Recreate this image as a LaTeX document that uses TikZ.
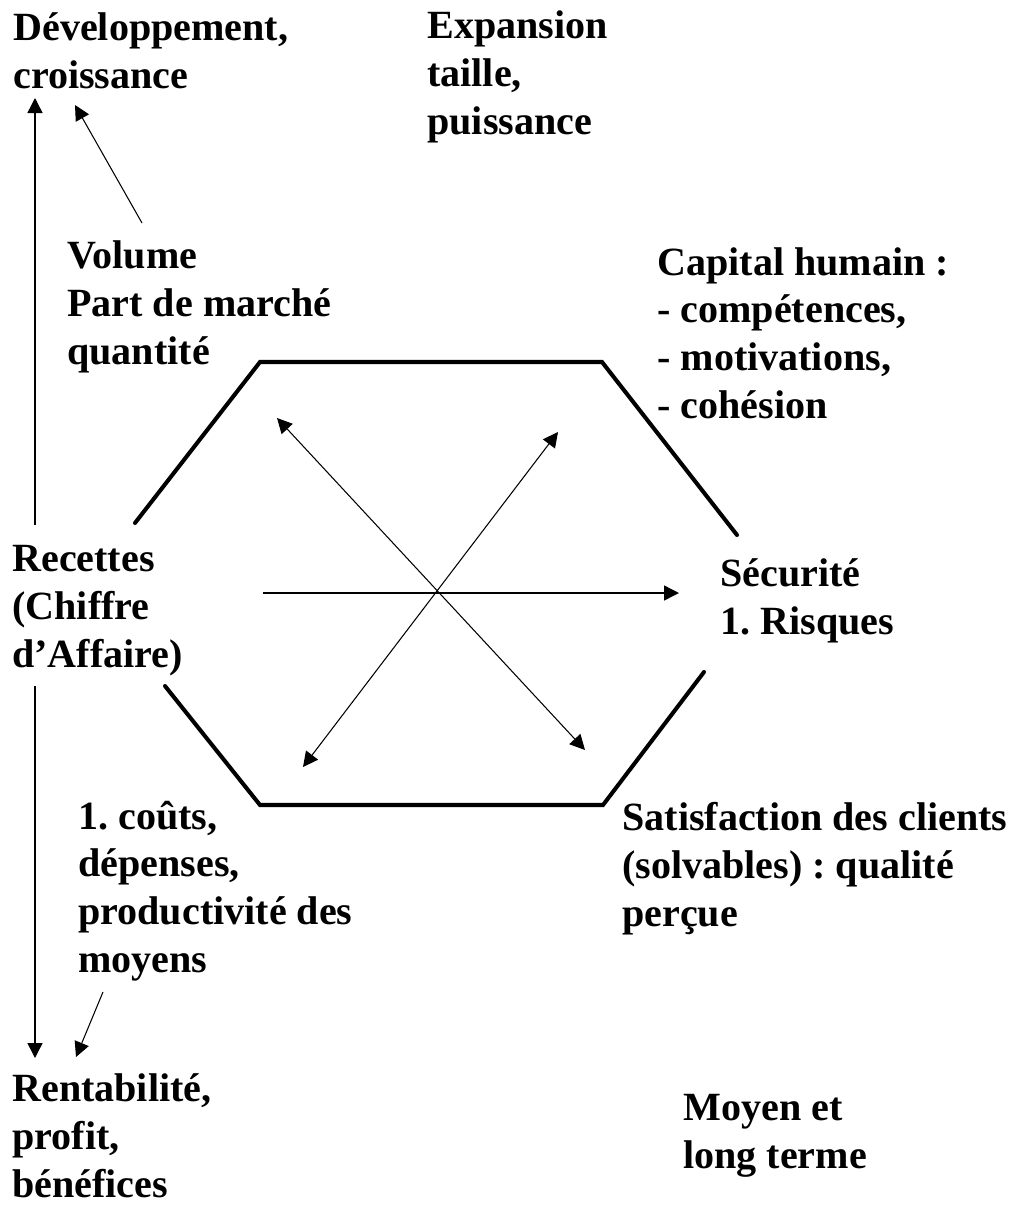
\documentclass[tikz,border=0pt]{standalone}
\usepackage{fontspec}
\setmainfont{Liberation Serif}
\frenchspacing
\usetikzlibrary{arrows.meta}

\tikzset{
  lbl/.style={font=\fontsize{22.8}{27.1}\selectfont\bfseries, align=left,
    inner sep=0pt, anchor=base west},
  hexline/.style={line width=2.3pt, line cap=round, line join=miter},
  arr/.style={line width=0.8pt, -{Triangle[length=0.3cm,width=0.3cm]}},
  darr/.style={line width=0.6pt, {Triangle[length=0.3cm,width=0.3cm]}-{Triangle[length=0.3cm,width=0.3cm]}}
}

\begin{document}
\begin{tikzpicture}[x=0.02cm, y=-0.02cm]
\useasboundingbox (0,0) rectangle (1013,1207);

% labels (ancre = ligne de base de la derniere ligne)
\node[lbl] (dev) at (13,88) {Développement,\\croissance};
\node[lbl] (expa) at (427,134) {Expansion\\taille,\\puissance};
\node[lbl] (vol) at (67,364) {Volume\\Part de marché\\quantité};
\node[lbl] (capi) at (657,418) {Capital humain :\\- compétences,\\- motivations,\\- cohésion};
\node[lbl] (rec) at (12,667) {Recettes\\(Chiffre\\d’Affaire)};
\node[lbl] (secu) at (720,634) {Sécurité\\1. Risques};
\node[lbl] (cout) at (78,972) {1. coûts,\\dépenses,\\productivité des\\moyens};
\node[lbl] (sati) at (622,926) {Satisfaction des clients\\(solvables) : qualité\\perçue};
\node[lbl] (rent) at (12,1197) {Rentabilité,\\profit,\\bénéfices};
\node[lbl] (terme) at (683,1168) {Moyen et\\long terme};

% hexagone
\draw[hexline] (135,523) -- (260,362) -- (602,362) -- (737,535);
\draw[hexline] (165,686) -- (260,805) -- (603,805) -- (704,672);

% extremites des fleches
\coordinate (recUp) at (35,525);
\coordinate (devDn) at (35,98);
\coordinate (volUp) at (142,223);
\coordinate (devTip) at (75,105);
\coordinate (recDn) at (35,686);
\coordinate (rentUp) at (35,1058);
\coordinate (coutDn) at (103,992);
\coordinate (rentTip) at (76,1057);
\coordinate (hexW) at (263,593);
\coordinate (secuW) at (679,593);
\coordinate (diagNW) at (277,418);
\coordinate (diagSE) at (585,750);
\coordinate (diagNE) at (558,432);
\coordinate (diagSW) at (303,767);

% fleches
\draw[arr] (recUp) -- (devDn);
\draw[arr, line width=0.6pt] (volUp) -- (devTip);
\draw[arr] (recDn) -- (rentUp);
\draw[arr, line width=0.6pt] (coutDn) -- (rentTip);
\draw[arr] (hexW) -- (secuW);
\draw[darr] (diagNW) -- (diagSE);
\draw[darr] (diagNE) -- (diagSW);
\end{tikzpicture}
\end{document}
